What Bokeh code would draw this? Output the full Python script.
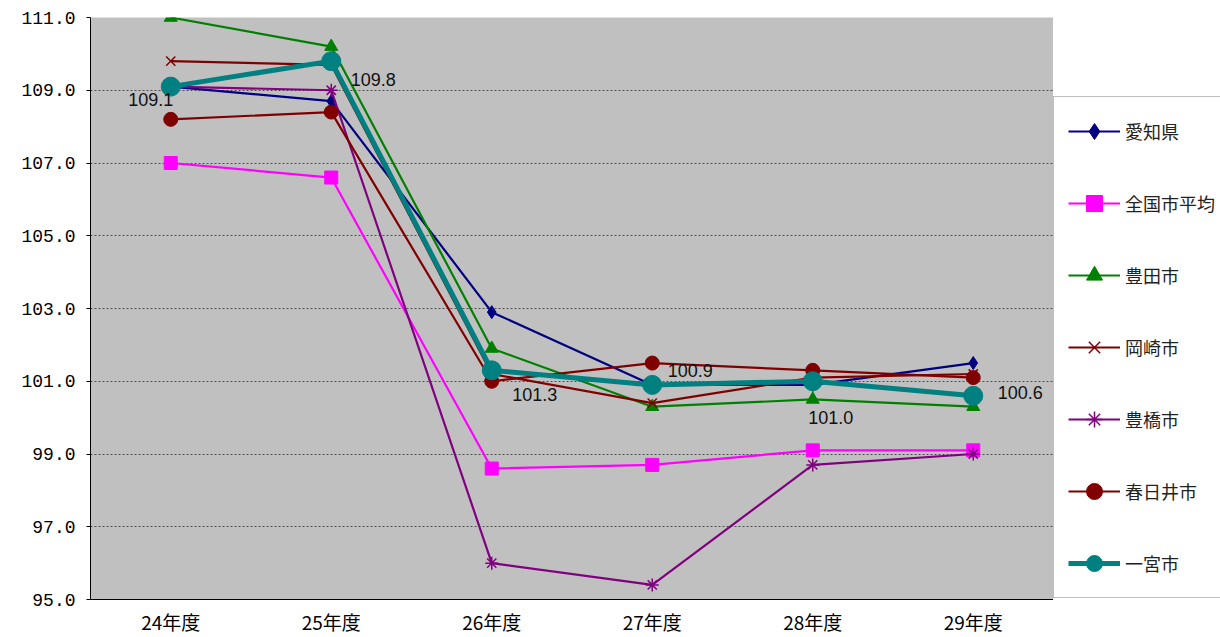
from bokeh.plotting import figure
from bokeh.layouts import row
from bokeh.models import (Range1d, FactorRange, FixedTicker, PrintfTickFormatter,
                          Legend, LegendItem, ColumnDataSource)
from bokeh.core.properties import value
from bokeh.embed import file_html
from bokeh.resources import INLINE

years = ["24年度", "25年度", "26年度", "27年度", "28年度", "29年度"]
aichi = [109.1, 108.7, 102.9, 100.9, 100.9, 101.5]
zenkoku = [107.0, 106.6, 98.6, 98.7, 99.1, 99.1]
toyota = [111.0, 110.2, 101.9, 100.3, 100.5, 100.3]
okazaki = [109.8, 109.7, 101.2, 100.4, 101.1, 101.2]
toyohashi = [109.1, 109.0, 96.0, 95.4, 98.7, 99.0]
kasugai = [108.2, 108.4, 101.0, 101.5, 101.3, 101.1]
ichinomiya = [109.1, 109.8, 101.3, 100.9, 101.0, 100.6]
y_ticks = [95, 97, 99, 101, 103, 105, 107, 109, 111]

series = [
    ("愛知県", aichi, "#000080", "diamond", 13, 2.2),
    ("全国市平均", zenkoku, "#FF00FF", "square", 13, 2.2),
    ("豊田市", toyota, "#008000", "triangle", 13, 2.2),
    ("岡崎市", okazaki, "#800000", "x", 13, 2.2),
    ("豊橋市", toyohashi, "#800080", "asterisk", 13, 2.2),
    ("春日井市", kasugai, "#800000", "circle", 14, 2.2),
    ("一宮市", ichinomiya, "#008080", "circle", 19, 5),
]

label_dx = [-20, 42, 43, 38, 18, 47]
label_dy = [13, 18, 24, -14, 36, -3]

p = figure(width=1053, height=637, x_range=FactorRange(*years, range_padding=0),
           y_range=Range1d(95, 111), output_backend="svg", toolbar_location=None,
           min_border_left=90, min_border_right=0, min_border_top=17,
           min_border_bottom=36)
p.background_fill_color = "#C0C0C0"
p.border_fill_color = "white"
p.outline_line_color = None

p.xgrid.grid_line_color = None
p.ygrid.ticker = FixedTicker(ticks=y_ticks)
p.ygrid.grid_line_color = "#505050"
p.ygrid.grid_line_dash = "2 2"
p.ygrid.grid_line_width = 1

p.yaxis.ticker = FixedTicker(ticks=y_ticks)
p.yaxis.formatter = PrintfTickFormatter(format="%.1f")
p.yaxis.axis_line_color = "black"
p.yaxis.major_tick_out = 4
p.yaxis.major_tick_in = 0
p.yaxis.minor_tick_line_color = None
p.yaxis.major_label_text_font = "Liberation Mono"
p.yaxis.major_label_text_font_size = "18px"
p.yaxis.major_label_text_color = "black"
p.yaxis.major_label_standoff = 11

p.xaxis.axis_line_color = "black"
p.xaxis.major_tick_line_color = None
p.xaxis.major_tick_out = 0
p.xaxis.major_tick_in = 0
p.xaxis.major_label_text_font = "Noto Sans CJK JP"
p.xaxis.major_label_text_font_size = "19px"
p.xaxis.major_label_text_color = "black"
p.xaxis.major_label_standoff = 8

# legend-only companion figure (frame kept at the same height as the chart)
lg = figure(width=167, height=637, x_range=Range1d(0, 1), y_range=Range1d(0, 1),
            x_axis_type=None, y_axis_type=None,
            output_backend="svg", toolbar_location=None,
            min_border_left=0, min_border_right=0, min_border_top=17,
            min_border_bottom=36)
lg.grid.visible = False
lg.outline_line_color = None
lg.background_fill_color = "white"
lg.border_fill_color = "white"

nan = float("nan")
items = []
for name, vals, color, marker, size, lw in series:
    src = ColumnDataSource(dict(x=years, y=vals))
    p.line("x", "y", source=src, line_color=color, line_width=lw)
    dummy = ColumnDataSource(dict(x=[nan], y=[nan]))
    r1 = lg.line("x", "y", source=dummy, line_color=color, line_width=lw)
    if marker in ("x", "asterisk"):
        p.scatter("x", "y", source=src, marker=marker, size=size,
                  line_color=color, line_width=1.5, fill_color=color)
        r2 = lg.scatter("x", "y", source=dummy, marker=marker, size=size,
                        line_color=color, line_width=1.5, fill_color=color)
    else:
        p.scatter("x", "y", source=src, marker=marker, size=size,
                  line_color=color, fill_color=color)
        r2 = lg.scatter("x", "y", source=dummy, marker=marker, size=size,
                        line_color=color, fill_color=color)
    items.append(LegendItem(label=name, renderers=[r1, r2]))

lab_src = ColumnDataSource(dict(x=years, y=ichinomiya,
                                t=["%.1f" % v for v in ichinomiya],
                                dx=label_dx, dy=label_dy))
p.text("x", "y", text="t", source=lab_src, x_offset="dx", y_offset="dy",
       text_align="center", text_baseline="middle",
       text_font=value("Liberation Sans"), text_font_size="18px",
       text_color="#111111")

legend = Legend(items=items, location=(0, 1), padding=14, spacing=32,
                margin=0, glyph_width=52, glyph_height=40, label_height=40,
                label_standoff=5, label_text_font="Noto Sans CJK JP",
                label_text_font_size="18px", label_text_color="#222222",
                border_line_color="#808080", border_line_width=1,
                background_fill_color="white", background_fill_alpha=1.0)
lg.add_layout(legend, "center")

layout = row(p, lg, spacing=0)
open("out.html", "w").write(file_html(layout, INLINE))
